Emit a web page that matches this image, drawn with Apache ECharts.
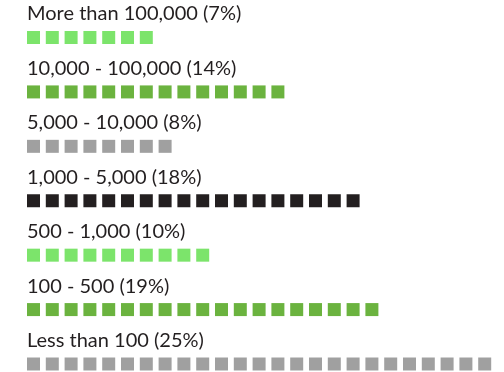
<!DOCTYPE html>
<html>
<head>
<meta charset="utf-8">
<script src="https://cdn.jsdelivr.net/npm/echarts@6/dist/echarts.min.js"></script>
<style>html,body{margin:0;padding:0;background:#fff;}#c{width:504px;height:372px;}</style>
</head>
<body>
<div id="c"></div>
<script>
const categories = ['More than 100,000', '10,000 - 100,000', '5,000 - 10,000', '1,000 - 5,000', '500 - 1,000', '100 - 500', 'Less than 100'];
const percents = [7, 14, 8, 18, 10, 19, 25];
const colors = ['#7ce46b', '#6bb33f', '#a0a0a0', '#231f20', '#7ce46b', '#6bb33f', '#a0a0a0'];

const chart = echarts.init(document.getElementById('c'));
chart.setOption({
  animation: false,
  grid: { left: 24.1, right: 504 - 24.1 - 25 * 18.8, top: 37.5, bottom: 372 - 364, containLabel: false, outerBoundsMode: 'none' },
  xAxis: { type: 'value', min: 0, max: 25, show: false },
  yAxis: {
    type: 'category', inverse: true, data: categories, boundaryGap: false,
    axisLine: { show: false }, axisTick: { show: false }, splitLine: { show: false },
    axisLabel: {
      inside: true, margin: 2.9, align: 'left', verticalAlign: 'middle',
      interval: 0, showMinLabel: true, showMaxLabel: true, hideOverlap: false,
      lineHeight: 47,
      color: '#231f20', fontSize: 20, fontFamily: 'Lato',
      formatter: function (v, i) { return v + ' (' + percents[i] + '%)\n '; }
    }
  },
  series: [{
    type: 'pictorialBar',
    symbol: 'rect',
    symbolRepeat: true,
    symbolSize: [13, 13],
    symbolMargin: '2.9!',
    data: percents.map((p, i) => ({ value: p, itemStyle: { color: colors[i] } }))
  }]
});
</script>
</body>
</html>
